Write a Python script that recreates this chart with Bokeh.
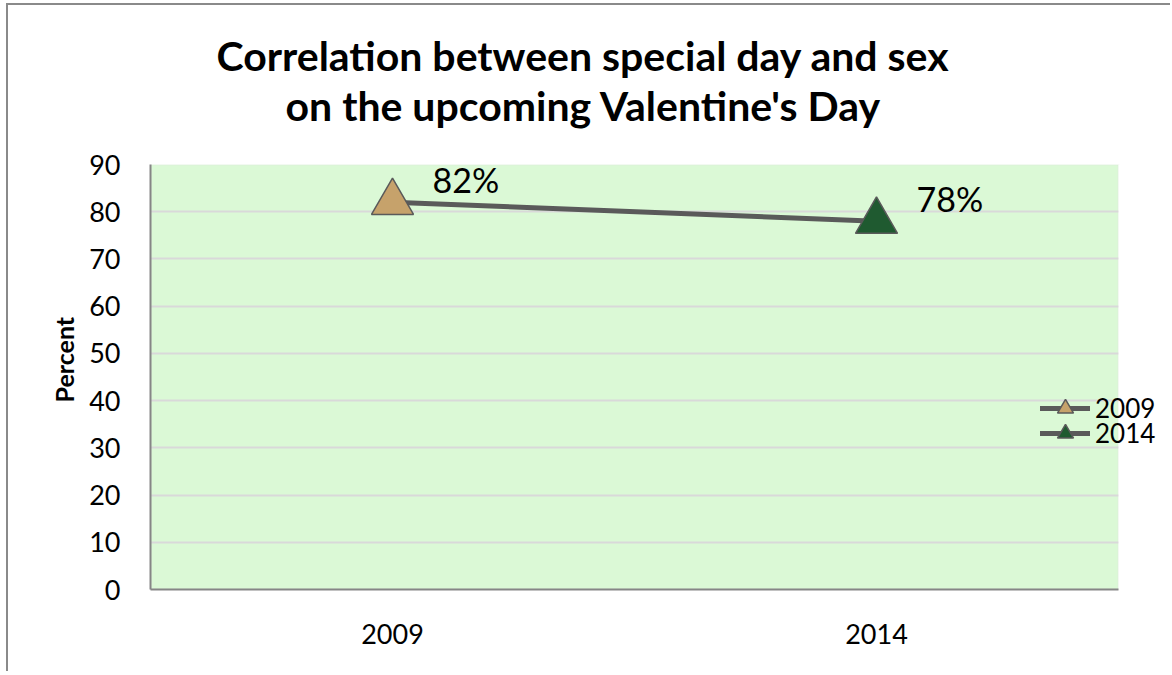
from bokeh.plotting import figure
from bokeh.models import (ColumnDataSource, Range1d, FixedTicker, SingleIntervalTicker,
                          Title, Legend, LegendItem, BoxAnnotation, LinearAxis)
from bokeh.core.properties import value
from bokeh.embed import file_html
from bokeh.resources import INLINE

# ---- data ----
years = ["2009", "2014"]
percent = [82, 78]
labels = ["82%", "78%"]
marker_colors = ["#c6a26b", "#1f5a30"]
title_lines = ["Correlation between special day and sex", "on the upcoming Valentine's Day"]
y_label = "Percent"

FONT = "Lato"
n = len(years)
x_pos = [i + 0.5 for i in range(n)]          # category centres
x_end = n * 1022 / 968                        # frame runs past the plot area, for the legend

p = figure(width=1164, height=668, output_backend="svg", toolbar_location=None,
           x_range=Range1d(0, x_end), y_range=Range1d(0, 90))
p.min_border_left = 142
p.min_border_right = 0
p.min_border_top = 159
p.min_border_bottom = 84
p.background_fill_color = "white"
p.border_fill_color = "white"
p.outline_line_color = None
p.styles = {"margin-left": "6px", "margin-top": "3px",
            "border-left": "2px solid #8a8a8a", "border-top": "2px solid #8a8a8a"}

# plot area (green) + mask for grid beyond it
p.add_layout(BoxAnnotation(left=0, right=n, bottom=0, top=90, fill_color="#dbf9d6", fill_alpha=1,
                           line_color="#d9d9d9", line_width=2, level="image"))
p.add_layout(BoxAnnotation(left=n, fill_color="white", fill_alpha=1, line_color=None,
                           level="underlay"))

# axes
xax = p.xaxis[0]
yax = p.yaxis[0]
yax.ticker = SingleIntervalTicker(interval=10)
yax.axis_line_color = "#868686"
yax.axis_line_width = 2
yax.major_tick_line_color = None
yax.minor_tick_line_color = None
yax.major_label_text_font = FONT
yax.major_label_text_font_size = "27px"
yax.major_label_text_color = "black"
yax.major_label_standoff = 24

xax.ticker = FixedTicker(ticks=x_pos)
xax.major_label_overrides = {x: y for x, y in zip(x_pos, years)}
xax.bounds = (0, n)
xax.axis_line_color = "#868686"
xax.axis_line_width = 2
xax.major_tick_line_color = None
xax.minor_tick_line_color = None
xax.major_label_text_font = FONT
xax.major_label_text_font_size = "27px"
xax.major_label_text_color = "black"
xax.major_label_standoff = 28

# invisible spacer between frame and title (ticks hidden, labels empty)
spacer = LinearAxis(ticker=FixedTicker(ticks=x_pos), axis_line_color=None,
                    major_label_overrides={x: "" for x in x_pos},
                    major_tick_line_color=None, minor_tick_line_color=None,
                    major_tick_out=35, minor_tick_out=0, major_tick_in=0, minor_tick_in=0,
                    major_label_standoff=0)
p.add_layout(spacer, "above")

# titles: first added sits closest to frame
p.add_layout(Title(text=title_lines[1], text_font=FONT, text_font_size="41px",
                   text_font_style="bold", text_color="black", align="left", offset=135,
                   standoff=0), "above")
p.add_layout(Title(text=title_lines[0], text_font=FONT, text_font_size="41px",
                   text_font_style="bold", text_color="black", align="left", offset=66,
                   standoff=-2), "above")

# y-axis title, placed off-centre like the reference
p.add_layout(Title(text=y_label, text_font=FONT, text_font_size="25px",
                   text_font_style="bold", text_color="black", align="left", offset=187,
                   standoff=16), "left")

p.xgrid.grid_line_color = None
p.ygrid.grid_line_color = "#d9d9d9"
p.ygrid.grid_line_width = 2

src = ColumnDataSource(dict(x=x_pos, y=percent, lab=labels, c=marker_colors))

ln = p.line(x="x", y="y", source=src, line_color="#5a5a5a", line_width=5, line_cap="round")
marks = []
for i in range(n):
    s = ColumnDataSource(dict(x=[x_pos[i]], y=[percent[i]]))
    r = p.scatter(x="x", y="y", source=s, marker="triangle", size=42,
                  fill_color=marker_colors[i], line_color="#5a5a5a", line_width=1.5)
    marks.append(r)

p.text(x="x", y="y", text="lab", source=src, x_offset=40, y_offset=-23,
       text_font=value(FONT), text_font_size="34px", text_color="black",
       text_baseline="middle", text_align="left")

# one legend per entry so rows can sit closer than the glyph height
legend_y = [161, 136]
for i, yr in enumerate(years):
    lg = Legend(items=[LegendItem(label=yr, renderers=[ln, marks[i]])],
                location=(890, legend_y[i]))
    lg.glyph_width = 50
    lg.glyph_height = 40
    lg.padding = 0
    lg.margin = 0
    lg.label_standoff = 5
    lg.label_text_font = FONT
    lg.label_text_font_size = "26px"
    lg.label_text_color = "black"
    lg.background_fill_alpha = 0
    lg.border_line_alpha = 0
    p.add_layout(lg, "center")

open("out.html", "w").write(file_html(p, INLINE))
